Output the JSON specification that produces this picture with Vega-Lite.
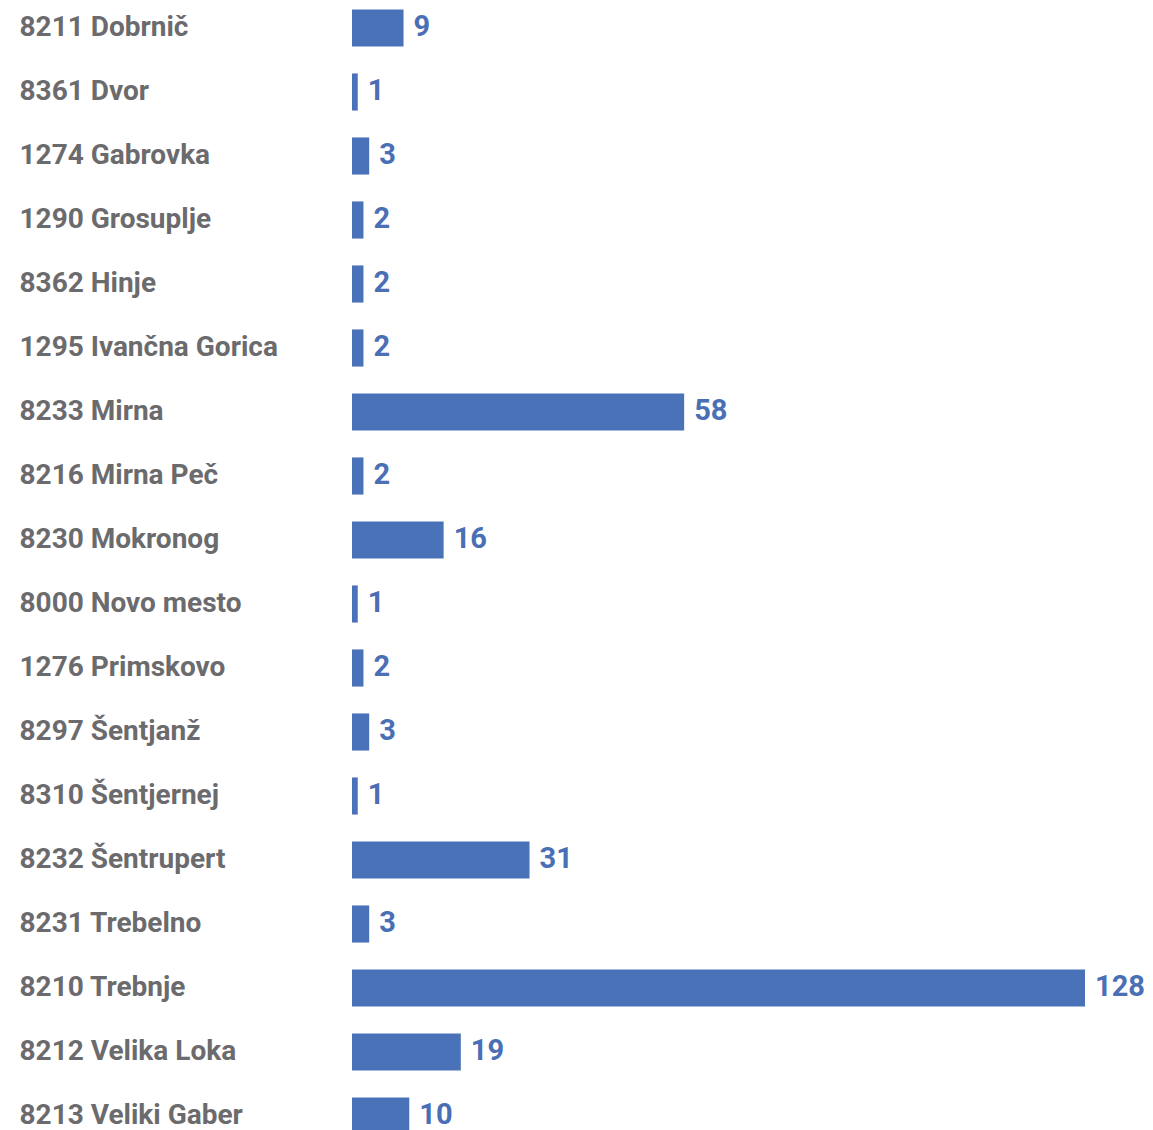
{
  "$schema": "https://vega.github.io/schema/vega-lite/v6.json",
  "width": 733,
  "height": 1152,
  "autosize": "none",
  "padding": {"left": 352, "top": -4, "right": 68, "bottom": 0},
  "background": "white",
  "config": {"view": {"stroke": null}},
  "data": {"values": [
    {"kraj": "8211 Dobrnič", "n": 9},
    {"kraj": "8361 Dvor", "n": 1},
    {"kraj": "1274 Gabrovka", "n": 3},
    {"kraj": "1290 Grosuplje", "n": 2},
    {"kraj": "8362 Hinje", "n": 2},
    {"kraj": "1295 Ivančna Gorica", "n": 2},
    {"kraj": "8233 Mirna", "n": 58},
    {"kraj": "8216 Mirna Peč", "n": 2},
    {"kraj": "8230 Mokronog", "n": 16},
    {"kraj": "8000 Novo mesto", "n": 1},
    {"kraj": "1276 Primskovo", "n": 2},
    {"kraj": "8297 Šentjanž", "n": 3},
    {"kraj": "8310 Šentjernej", "n": 1},
    {"kraj": "8232 Šentrupert", "n": 31},
    {"kraj": "8231 Trebelno", "n": 3},
    {"kraj": "8210 Trebnje", "n": 128},
    {"kraj": "8212 Velika Loka", "n": 19},
    {"kraj": "8213 Veliki Gaber", "n": 10}
  ]},
  "encoding": {
    "y": {
      "field": "kraj", "type": "nominal", "sort": null,
      "scale": {"paddingInner": 0.42, "paddingOuter": 0.21},
      "axis": {
        "title": null, "domain": false, "ticks": false, "grid": false,
        "labelAlign": "left", "labelPadding": 333, "labelBaseline": "middle",
        "labelFont": "Roboto", "labelFontWeight": "bold", "labelFontSize": 28,
        "labelColor": "#6b6b6e", "labelLimit": 330
      }
    },
    "x": {
      "field": "n", "type": "quantitative",
      "scale": {"domain": [0, 128], "nice": false, "zero": true},
      "axis": null
    }
  },
  "layer": [
    {"mark": {"type": "bar", "color": "#4a72b8"}},
    {
      "mark": {"type": "text", "align": "left", "baseline": "middle", "dx": 10, "dy": -1,
               "font": "Roboto", "fontWeight": "bold", "fontSize": 29, "color": "#4a6fb5"},
      "encoding": {"text": {"field": "n", "type": "quantitative"}}
    }
  ]
}
